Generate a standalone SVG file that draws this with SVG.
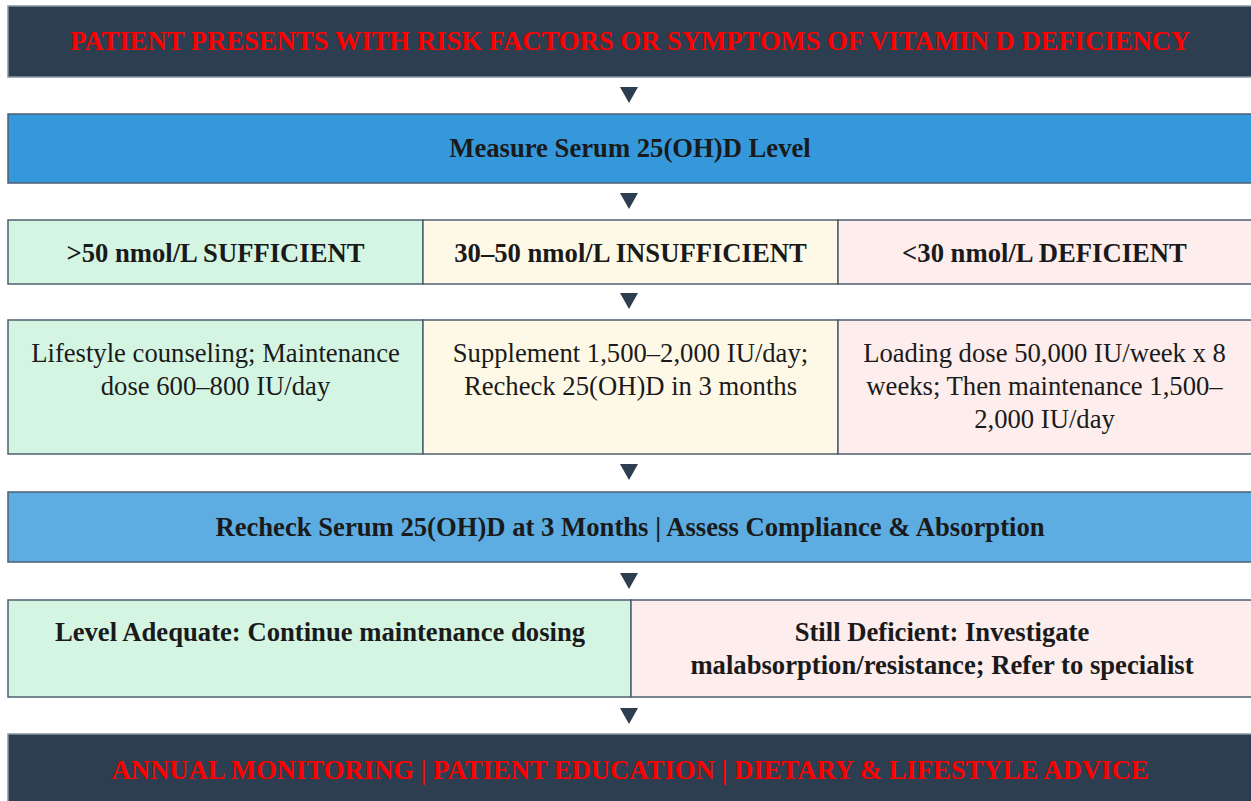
<svg xmlns="http://www.w3.org/2000/svg" width="1251" height="801" viewBox="0 0 1251 801">
<style>
.box{stroke:#4f5f70;stroke-width:1.5}
.dark{fill:#2c3e50;stroke:#8795a3}
.blue{fill:#3498db}
.blue2{fill:#5dade2}
.green{fill:#d5f5e3}
.cream{fill:#fef9e7}
.pink{fill:#fdedec}
text{font-family:"Liberation Serif","Times New Roman",serif;font-size:26.67px;text-anchor:middle;fill:#1a1a1a}
.b{font-weight:bold}
.red{fill:#ff0000;font-weight:bold}
.arrow{fill:#2c3e50}
</style>
<rect width="1251" height="801" fill="#ffffff"/>
<g id="n-start">
<rect class="box dark" x="8" y="6" width="1250" height="71"/>
<text class="red" x="630" y="50">PATIENT PRESENTS WITH RISK FACTORS OR SYMPTOMS OF VITAMIN D DEFICIENCY</text>
</g>
<g id="n-measure">
<rect class="box blue" x="8" y="114" width="1250" height="69"/>
<text class="b" x="630" y="157">Measure Serum 25(OH)D Level</text>
</g>
<g id="n-sufficient">
<rect class="box green" x="8" y="220" width="415" height="64"/>
<text class="b" x="215.5" y="262">&gt;50 nmol/L SUFFICIENT</text>
</g>
<g id="n-insufficient">
<rect class="box cream" x="423" y="220" width="415" height="64"/>
<text class="b" x="630.5" y="262">30–50 nmol/L INSUFFICIENT</text>
</g>
<g id="n-deficient">
<rect class="box pink" x="838" y="220" width="420" height="64"/>
<text class="b" x="1044.5" y="262">&lt;30 nmol/L DEFICIENT</text>
</g>
<g id="n-tx-sufficient">
<rect class="box green" x="8" y="320" width="415" height="134"/>
<text x="215.5" y="362">Lifestyle counseling; Maintenance</text>
<text x="215.5" y="395">dose 600–800 IU/day</text>
</g>
<g id="n-tx-insufficient">
<rect class="box cream" x="423" y="320" width="415" height="134"/>
<text x="630.5" y="362">Supplement 1,500–2,000 IU/day;</text>
<text x="630.5" y="395">Recheck 25(OH)D in 3 months</text>
</g>
<g id="n-tx-deficient">
<rect class="box pink" x="838" y="320" width="420" height="134"/>
<text x="1044.5" y="362">Loading dose 50,000 IU/week x 8</text>
<text x="1044.5" y="395">weeks; Then maintenance 1,500–</text>
<text x="1044.5" y="428">2,000 IU/day</text>
</g>
<g id="n-recheck">
<rect class="box blue2" x="8" y="492" width="1250" height="70"/>
<text class="b" x="630" y="536">Recheck Serum 25(OH)D at 3 Months | Assess Compliance &amp; Absorption</text>
</g>
<g id="n-adequate">
<rect class="box green" x="8" y="600" width="623" height="97"/>
<text class="b" x="320" y="641">Level Adequate: Continue maintenance dosing</text>
</g>
<g id="n-still-deficient">
<rect class="box pink" x="631" y="600" width="627" height="97"/>
<text class="b" x="942" y="641">Still Deficient: Investigate</text>
<text class="b" x="942" y="674">malabsorption/resistance; Refer to specialist</text>
</g>
<g id="n-end">
<rect class="box dark" x="8" y="734" width="1250" height="72"/>
<text class="red" x="630" y="779">ANNUAL MONITORING | PATIENT EDUCATION | DIETARY &amp; LIFESTYLE ADVICE</text>
</g>
<g id="connectors">
<polygon class="arrow" points="620,87 638,87 629,103"/>
<polygon class="arrow" points="620,193 638,193 629,209"/>
<polygon class="arrow" points="620,293 638,293 629,309"/>
<polygon class="arrow" points="620,464 638,464 629,480"/>
<polygon class="arrow" points="620,573 638,573 629,589"/>
<polygon class="arrow" points="620,708 638,708 629,724"/>
</g>
</svg>
